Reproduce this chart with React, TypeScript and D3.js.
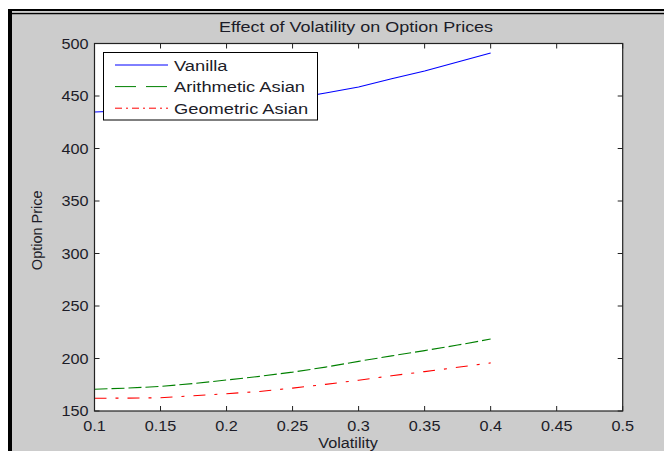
import React from "react";
import * as d3 from "d3";

const volatility = [0.1, 0.125, 0.15, 0.175, 0.2, 0.225, 0.25, 0.275, 0.3, 0.325, 0.35, 0.375, 0.4];
const vanilla = [434.8, 436, 437.5, 439.3, 441.5, 444, 447.5, 452.8, 458.6, 466.5, 473.8, 482.3, 491];
const arithmeticAsian = [170.7, 171.8, 173.4, 176.2, 179.5, 183, 187, 191.8, 197.3, 202.5, 207.5, 212.8, 218.5];
const geometricAsian = [162.1, 162.3, 162.6, 164.5, 166.5, 168.6, 171.8, 175.4, 179.3, 183.6, 187.5, 191.6, 195.8];
const seriesNames = ["Vanilla", "Arithmetic Asian", "Geometric Asian"];
const xTicks = [0.1, 0.15, 0.2, 0.25, 0.3, 0.35, 0.4, 0.45, 0.5];
const yTicks = [150, 200, 250, 300, 350, 400, 450, 500];

const W = 664, H = 451;
const L = 94.5, R = 622.7, T = 43.5, B = 411;
const FONT = "'Liberation Sans', Arial, sans-serif";

function HText({ x, y, anchor = "start", size = 14, sx = 1.12, children, fill = "#1c1c28" }: any) {
  return (
    <text
      transform={`translate(${x},${y}) scale(${sx},1)`}
      textAnchor={anchor}
      fontFamily={FONT}
      fontSize={size}
      fill={fill}
    >
      {children}
    </text>
  );
}

export default function App() {
  const x = d3.scaleLinear().domain([0.1, 0.5]).range([L, R]);
  const y = d3.scaleLinear().domain([150, 500]).range([B, T]);
  const line = d3
    .line<number>()
    .x((_, i) => x(volatility[i]))
    .y((d) => y(d));

  const series = [
    { name: seriesNames[0], data: vanilla, color: "#0000ff", dash: "none", legendDash: "none" },
    { name: seriesNames[1], data: arithmeticAsian, color: "#008000", dash: "13,4", legendDash: "21,10" },
    { name: seriesNames[2], data: geometricAsian, color: "#ff0000", dash: "12,9,3,9", legendDash: "7,4,2,4" },
  ];

  const tick = 5;
  const legX = 103.5, legY = 52.5, legW = 214, legH = 67.5;

  return (
    <div style={{ position: "absolute", left: 0, top: 0 }}>
      <svg width={W} height={H} style={{ display: "block" }}>
        <rect x={0} y={0} width={W} height={H} fill="#ffffff" />
        <rect x={12} y={14.3} width={W - 12} height={H - 14.3} fill="#cccccc" />
        <rect x={8} y={9} width={W - 8} height={2.2} fill="#000" />
        <rect x={8} y={12.7} width={W - 8} height={1.6} fill="#000" />
        <rect x={8} y={9} width={4} height={H - 9} fill="#000" />

        <rect x={L} y={T} width={R - L} height={B - T} fill="#ffffff" />

        <HText x={356} y={32} anchor="middle" size={15.5} sx={1.16}>
          Effect of Volatility on Option Prices
        </HText>

        {series.map((s) => (
          <path
            key={s.name}
            d={line(s.data) || ""}
            fill="none"
            stroke={s.color}
            strokeWidth={1.1}
            strokeDasharray={s.dash}
          />
        ))}

        {xTicks.map((t) => (
          <g key={"x" + t}>
            <line x1={x(t)} x2={x(t)} y1={B} y2={B - tick} stroke="#222" />
            <line x1={x(t)} x2={x(t)} y1={T} y2={T + tick} stroke="#222" />
            <HText x={x(t)} y={431} anchor="middle" size={14.5}>
              {String(t)}
            </HText>
          </g>
        ))}
        {yTicks.map((t) => (
          <g key={"y" + t}>
            <line x1={L} x2={L + tick} y1={y(t)} y2={y(t)} stroke="#222" />
            <line x1={R} x2={R - tick} y1={y(t)} y2={y(t)} stroke="#222" />
            <HText x={L - 6} y={y(t) + 5} anchor="end" size={14.5}>
              {String(t)}
            </HText>
          </g>
        ))}
        <rect x={L} y={T} width={R - L} height={B - T} fill="none" stroke="#222" strokeWidth={1.2} />

        <HText x={348} y={448} anchor="middle" size={14.5}>
          Volatility
        </HText>
        <text
          transform={`translate(42,${(T + B) / 2 + 3}) rotate(-90)`}
          textAnchor="middle"
          fontFamily={FONT}
          fontSize={14.5}
          fill="#1c1c28"
        >
          Option Price
        </text>

        <rect x={legX} y={legY} width={legW} height={legH} fill="#ffffff" stroke="#000" strokeWidth={1} />
        {series.map((s, i) => {
          const ly = 65 + i * 21.6;
          return (
            <g key={"leg" + s.name}>
              <line x1={115} x2={168} y1={ly} y2={ly} stroke={s.color} strokeDasharray={s.legendDash} />
              <HText x={174} y={ly + 5.5} size={15.5} sx={1.18}>
                {s.name}
              </HText>
            </g>
          );
        })}
      </svg>
    </div>
  );
}
